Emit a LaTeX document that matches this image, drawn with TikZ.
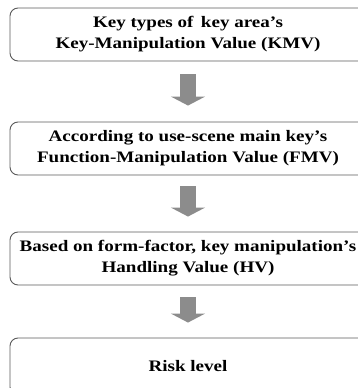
\documentclass[tikz,border=0pt]{standalone}
\usepackage{fontspec}
\setmainfont{Liberation Serif}[FakeStretch=1.19]
\usetikzlibrary{arrows.meta}
\definecolor{boxline}{HTML}{5A5A5A}
\definecolor{arrowgray}{HTML}{8C8C8C}
\tikzset{
  stepbox/.style={draw=boxline, line width=0.9pt, rounded corners=8pt, fill=white,
    minimum width=356pt, minimum height=53pt, inner sep=0pt, align=center,
    font=\bfseries\fontsize{16}{21}\selectfont, text=black},
  flowarrow/.style={draw=arrowgray, line width=16pt,
    -{Triangle[length=9pt, width=34pt]}},
}
\begin{document}
\begin{tikzpicture}[x=1pt,y=-1pt]
\useasboundingbox (0,0) rectangle (358,388);
\begin{scope}
\clip (0,0) rectangle (358,388);
\node[stepbox] (b1) at (188,34.5) {Key types of\, key area’s\\Key-Manipulation Value (KMV)};
\node[stepbox] (b2) at (188,148.5) {According to use-scene main key’s\\Function-Manipulation Value (FMV)};
\node[stepbox] (b3) at (188,258.5) {Based on form-factor, key manipulation’s\\Handling Value (HV)};
\node[stepbox, minimum height=57pt] (b4) at (188,366.5) {Risk level};
\draw[flowarrow] ([yshift=-13pt]b1.south) -- ([yshift=16pt]b2.north);
\draw[flowarrow] ([yshift=-11pt]b2.south) -- ([yshift=15pt]b3.north);
\draw[flowarrow] ([yshift=-12pt]b3.south) -- ([yshift=15pt]b4.north);
\end{scope}
\end{tikzpicture}
\end{document}
